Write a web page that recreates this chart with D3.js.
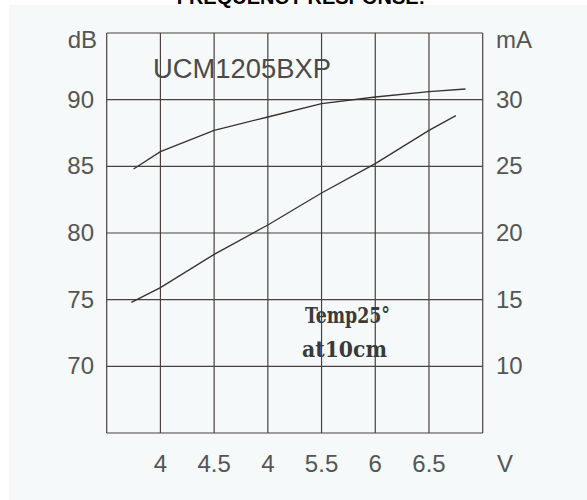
<!DOCTYPE html>
<html><head><meta charset="utf-8">
<script src="https://cdn.jsdelivr.net/npm/d3@7"></script>
<style>body{margin:0;background:#fff}</style>
</head><body>
<svg id="c" width="587" height="500"></svg>
<script>
const title = "FREQUENCY RESPONSE:";
const model = "UCM1205BXP";
const xTicks = [4, 4.5, 5, 5.5, 6, 6.5];
const xTickLabels = ["4", "4.5", "4", "5.5", "6", "6.5"];
const dbTicks = [70, 75, 80, 85, 90];
const maTicks = [10, 15, 20, 25, 30];
const splV = [3.75, 4.0, 4.5, 5.0, 5.5, 6.0, 6.5, 6.84];
const splDb = [84.8, 86.1, 87.7, 88.7, 89.7, 90.2, 90.6, 90.8];
const curV = [3.73, 4.0, 4.5, 5.0, 5.5, 6.0, 6.5, 6.75];
const curMa = [14.8, 15.9, 18.4, 20.6, 23.0, 25.2, 27.7, 28.8];

const svg = d3.select("#c");
svg.append("rect").attr("x", 9).attr("y", 5).attr("width", 578).attr("height", 495).attr("fill", "#f5f9f9");

const L = 106.7, R = 482.7, T = 33, B = 433;
const x = d3.scaleLinear().domain([3.5, 7]).range([L, R]);
const yDb = d3.scaleLinear().domain([65, 95]).range([B, T]);
const yMa = d3.scaleLinear().domain([5, 35]).range([B, T]);
const gridCol = "#4a4040";

// grid
const g = svg.append("g");
g.selectAll("line.v").data(xTicks.concat([3.5, 7])).join("line")
  .attr("x1", d => x(d)).attr("x2", d => x(d)).attr("y1", T).attr("y2", B)
  .attr("stroke", gridCol).attr("stroke-width", 1.2);
g.selectAll("line.h").data(dbTicks.concat([65, 95])).join("line")
  .attr("x1", L).attr("x2", R).attr("y1", d => yDb(d)).attr("y2", d => yDb(d))
  .attr("stroke", gridCol).attr("stroke-width", 1.2);

// axes labels
const lab = {fill: "#555", font: "24px 'Liberation Sans', Arial, sans-serif"};
svg.append("g").selectAll("text").data(dbTicks).join("text")
  .attr("x", 94).attr("y", d => yDb(d) + 8).attr("text-anchor", "end")
  .attr("fill", lab.fill).style("font", lab.font).text(d => d);
svg.append("g").selectAll("text").data(maTicks).join("text")
  .attr("x", 496).attr("y", d => yMa(d) + 8)
  .attr("fill", lab.fill).style("font", lab.font).text(d => d);
svg.append("g").selectAll("text").data(xTicks).join("text")
  .attr("x", d => x(d)).attr("y", 472).attr("text-anchor", "middle")
  .attr("fill", lab.fill).style("font", lab.font).text((d, i) => xTickLabels[i]);
svg.append("text").attr("x", 97).attr("y", 48).attr("text-anchor", "end")
  .attr("fill", lab.fill).style("font", lab.font).text("dB");
svg.append("text").attr("x", 496).attr("y", 48)
  .attr("fill", lab.fill).style("font", lab.font).text("mA");
svg.append("text").attr("x", 497).attr("y", 472)
  .attr("fill", lab.fill).style("font", lab.font).text("V");

svg.append("text").attr("x", 153).attr("y", 78)
  .attr("fill", "#4a4a4a").style("font", "27px 'Liberation Sans', Arial, sans-serif")
  .attr("textLength", 178).attr("lengthAdjust", "spacingAndGlyphs").text(model);

// curves
const line1 = d3.line().x(d => x(d[0])).y(d => yDb(d[1]));
const line2 = d3.line().x(d => x(d[0])).y(d => yMa(d[1]));
svg.append("path").attr("d", line1(splV.map((v, i) => [v, splDb[i]])))
  .attr("fill", "none").attr("stroke", "#3a3030").attr("stroke-width", 1.3);
svg.append("path").attr("d", line2(curV.map((v, i) => [v, curMa[i]])))
  .attr("fill", "none").attr("stroke", "#3a3030").attr("stroke-width", 1.3);

const serif = "bold 23px 'DejaVu Serif Condensed', 'DejaVu Serif', serif";
svg.append("text").attr("x", 305).attr("y", 323).attr("fill", "#3a3a3a").style("font", serif)
  .attr("textLength", 85).attr("lengthAdjust", "spacingAndGlyphs").text("Temp25°");
svg.append("text").attr("x", 302).attr("y", 357).attr("fill", "#3a3a3a").style("font", serif)
  .attr("textLength", 85).attr("lengthAdjust", "spacingAndGlyphs").text("at10cm");

svg.append("text").attr("x", 301).attr("y", 4).attr("text-anchor", "middle")
  .attr("fill", "#000").style("font", "bold 20px 'Liberation Sans', Arial, sans-serif").text(title);
</script>
</body></html>
